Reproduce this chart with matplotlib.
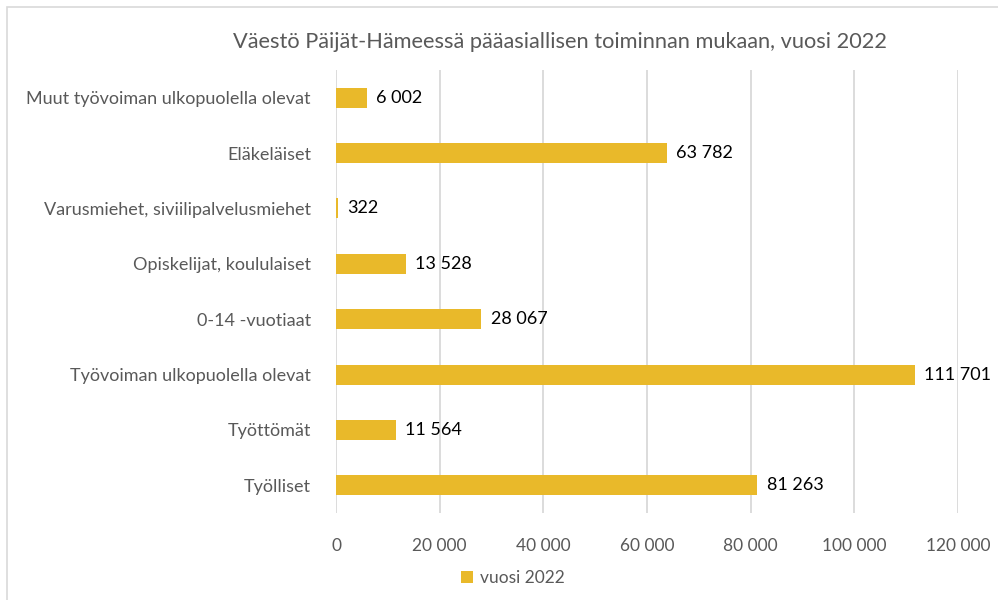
import matplotlib.pyplot as plt
from matplotlib.patches import Rectangle

categories = [
    "Työlliset",
    "Työttömät",
    "Työvoiman ulkopuolella olevat",
    "0-14 -vuotiaat",
    "Opiskelijat, koululaiset",
    "Varusmiehet, siviilipalvelusmiehet",
    "Eläkeläiset",
    "Muut työvoiman ulkopuolella olevat",
]
values = [81263, 11564, 111701, 28067, 13528, 322, 63782, 6002]
series_name = "vuosi 2022"
xticks = [0, 20000, 40000, 60000, 80000, 100000, 120000]

plt.rcParams['font.family'] = ['Lato', 'DejaVu Sans']

def fmt(v):
    return f"{v:,}".replace(",", " ")

fig = plt.figure(figsize=(9.98, 6.0), dpi=100)
ax = fig.add_axes([336 / 998, 1 - 513 / 600, (958 - 336) / 998, (513 - 70) / 600])

bar_color = '#E9B92A'
y = range(len(categories))
ax.barh(y, values, height=0.36, color=bar_color, label=series_name, zorder=3)

for yi, v in zip(y, values):
    ax.text(v + 1800, yi, fmt(v), va='center', ha='left', fontsize=13, color='#000000')

ax.set_xlim(0, 120000)
ax.set_ylim(-0.5, len(categories) - 0.5)
ax.set_yticks(list(y))
ax.set_yticklabels(categories, fontsize=13, color='#595959')
ax.set_xticks(xticks)
ax.set_xticklabels([fmt(t) for t in xticks], fontsize=12.5, color='#595959')
ax.tick_params(axis='both', length=0)
ax.tick_params(axis='y', pad=18)
ax.tick_params(axis='x', pad=18)
for s in ax.spines.values():
    s.set_visible(False)
ax.grid(axis='x', color='#D9D9D9', linewidth=1.3, zorder=0)

fig.text(560 / 998, 1 - 42 / 600, "Väestö Päijät-Hämeessä pääasiallisen toiminnan mukaan, vuosi 2022",
         ha='center', va='center', fontsize=15.7, color='#595959')

fig.legend(loc='center', bbox_to_anchor=(513 / 998, 1 - 578 / 600), frameon=False,
           fontsize=12.5, labelcolor='#595959', handlelength=0.7, handleheight=0.7,
           handletextpad=0.4)

fig.patches.append(Rectangle((7 / 998, -0.1), 1.2, 1 - 7 / 600 + 0.1, transform=fig.transFigure,
                             fill=False, edgecolor='#D9D9D9', linewidth=1.2))

fig.savefig('out.png', dpi=100)
